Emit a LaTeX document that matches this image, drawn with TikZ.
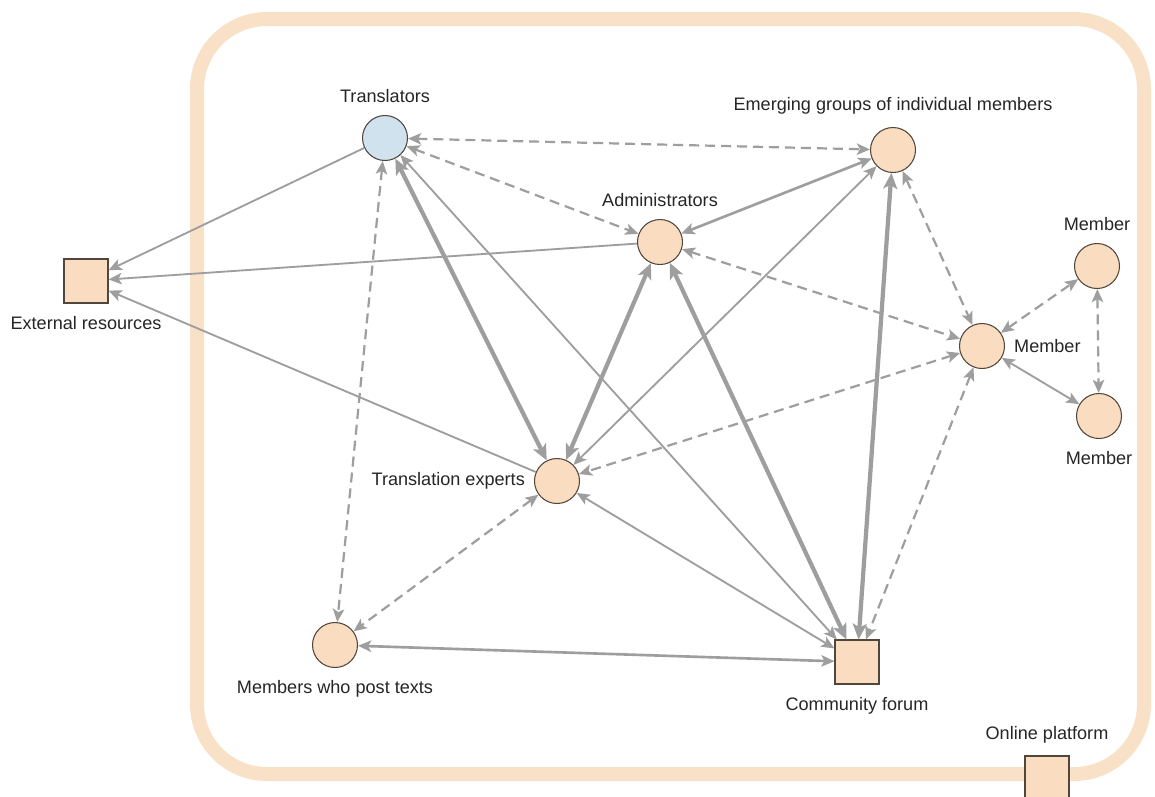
\documentclass[tikz,border=0pt]{standalone}
\usepackage{fontspec}
\setmainfont{Liberation Sans}
\usetikzlibrary{arrows.meta}
\definecolor{peach}{RGB}{250,220,192}
\definecolor{framepeach}{RGB}{249,225,200}
\definecolor{paleblue}{RGB}{207,226,238}
\definecolor{edgegray}{RGB}{158,158,158}
\definecolor{rim}{RGB}{80,70,60}
\begin{document}
\begin{tikzpicture}[x=0.02cm, y=-0.02cm,
    actor/.style={circle, draw=rim, line width=0.6pt, fill=peach, minimum size=0.9cm, inner sep=0pt},
    thing/.style={rectangle, draw=rim, line width=0.6pt, fill=peach, minimum size=0.88cm, inner sep=0pt},
    tag/.style={font=\fontsize{10.3}{12}\selectfont, text=black!85, inner sep=1pt},
    link/.style={edgegray, line width=1.05pt, {Stealth[length=7.5pt, width=6.5pt, inset=1.8pt]}-{Stealth[length=7.5pt, width=6.5pt, inset=1.8pt]}},
    medlink/.style={link, line width=1.5pt},
    heavy/.style={edgegray, line width=2.4pt, {Stealth[length=9pt, width=8pt, inset=2.2pt]}-{Stealth[length=9pt, width=8pt, inset=2.2pt]}},
    dashlink/.style={link, line width=1.25pt, dash pattern=on 5.7pt off 3.4pt},
    oneway/.style={edgegray, line width=1.05pt, -{Stealth[length=7.5pt, width=6.5pt, inset=1.8pt]}}]
    \useasboundingbox (0,0) rectangle (1155,796);
    \fill[white] (0,0) rectangle (1155,796);
    % platform frame
    \draw[framepeach, line width=0.28cm, rounded corners=1.4cm] (197,19) rectangle (1144,774);
    % actors
    \node[actor, fill=paleblue, label={[tag, label distance=6pt]above:Translators}] (trans) at (385,138) {};
    \node[actor, label={[tag, label distance=6pt]above:Administrators}] (admin) at (660,242) {};
    \node[actor, label={[tag, label distance=6pt]above:Emerging groups of individual members}] (groups) at (893,150) {};
    \node[actor, label={[tag, label distance=6pt]above:Member}] (memA) at (1097,266) {};
    \node[actor, label={[tag, label distance=4pt]right:Member}] (memB) at (982,346) {};
    \node[actor, label={[tag, label distance=6pt]below:Member}] (memC) at (1099,416) {};
    \node[actor, label={[tag, label distance=4pt]left:Translation experts}] (experts) at (557,481) {};
    \node[actor, label={[tag, label distance=6pt]below:Members who post texts}] (posters) at (335,645) {};
    \node[thing, label={[tag, label distance=6pt]below:Community forum}] (forum) at (857,662) {};
    \node[thing, label={[tag, label distance=6pt]below:External resources}] (extres) at (86,281) {};
    \node[thing, label={[tag, label distance=6pt]above:Online platform}] (platform) at (1047,778) {};
    % connections
    \draw[oneway] (trans) -- (extres);
    \draw[oneway] (admin) -- (extres);
    \draw[oneway] (experts) -- (extres);
    \draw[dashlink] (trans) -- (groups);
    \draw[dashlink] (trans) -- (admin);
    \draw[dashlink] (trans) -- (posters);
    \draw[heavy] (trans) -- (experts);
    \draw[link] (trans) -- (forum);
    \draw[medlink] (admin) -- (groups);
    \draw[dashlink] (admin) -- (memB);
    \draw[heavy] (admin) -- (experts);
    \draw[heavy] (admin) -- (forum);
    \draw[link] (groups) -- (experts);
    \draw[heavy] (groups) -- (forum);
    \draw[dashlink] (groups) -- (memB);
    \draw[dashlink] (memB) -- (experts);
    \draw[dashlink] (memB) -- (forum);
    \draw[dashlink] (memB) -- (memA);
    \draw[link] (memB) -- (memC);
    \draw[dashlink] (memA) -- (memC);
    \draw[dashlink] (experts) -- (posters);
    \draw[link] (experts) -- (forum);
    \draw[medlink] (posters) -- (forum);
\end{tikzpicture}
\end{document}
